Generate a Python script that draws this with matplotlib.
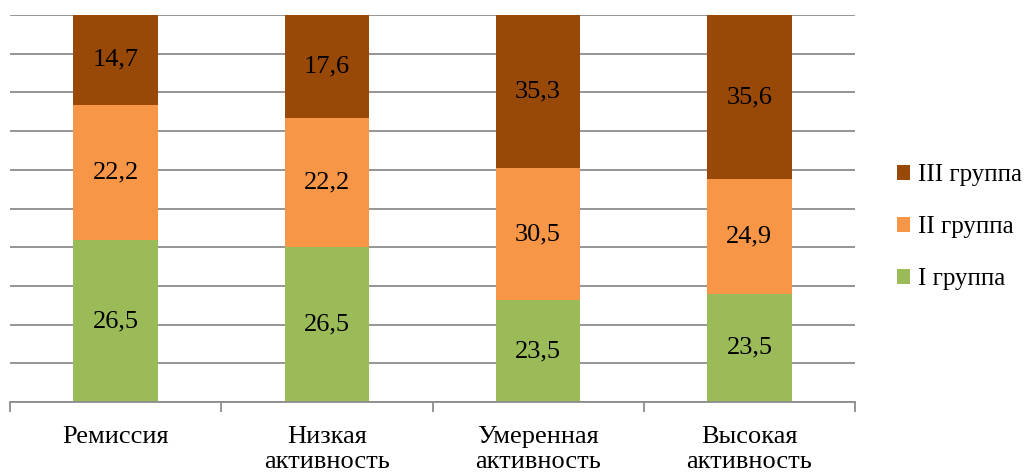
import matplotlib
matplotlib.use("Agg")
import matplotlib.pyplot as plt
from matplotlib.patches import Patch
import numpy as np

plt.rcParams['font.family'] = ['Liberation Serif', 'DejaVu Serif']

categories = ["Ремиссия", "Низкая\nактивность", "Умеренная\nактивность", "Высокая\nактивность"]
series_names = ["I группа", "II группа", "III группа"]
group1 = [26.5, 26.5, 23.5, 23.5]
group2 = [22.2, 22.2, 30.5, 24.9]
group3 = [14.7, 17.6, 35.3, 35.6]
colors = ["#9BBB59", "#F79646", "#984807"]

values = np.array([group1, group2, group3])
totals = values.sum(axis=0)
shares = values / totals * 100

fig = plt.figure(figsize=(10.27, 4.74), dpi=100)
ax = fig.add_axes([10 / 1027, 1 - 402 / 474, 845 / 1027, 387 / 474])

x = np.arange(len(categories))
bottom = np.zeros(len(categories))
for i in range(len(series_names)):
    ax.bar(x, shares[i], width=0.4, bottom=bottom, color=colors[i], zorder=2)
    for xi, b, h, v in zip(x, bottom, shares[i], values[i]):
        ax.text(xi, b + h / 2, f"{v:.1f}".replace(".", ","), ha="center", va="center",
                fontsize=19, color="black", zorder=3)
    bottom += shares[i]

ax.set_xlim(-0.5, len(categories) - 0.5)
ax.set_ylim(0, 100)
ax.set_yticks(np.arange(0, 101, 10))
ax.yaxis.grid(True, color="#8C8C8C", linewidth=1.3, zorder=0)
ax.tick_params(axis="y", left=False, labelleft=False)

ax.set_xticks(np.arange(-0.5, len(categories), 1.0))
ax.set_xticklabels([])
ax.set_xticks(x, minor=True)
ax.set_xticklabels(categories, minor=True, fontsize=19, linespacing=1.18)
ax.tick_params(axis="x", which="major", length=7, width=1.3, color="#8C8C8C", direction="out")
ax.tick_params(axis="x", which="minor", length=0, pad=17)

for s in ["top", "right", "left"]:
    ax.spines[s].set_visible(False)
ax.spines["bottom"].set_color("#8C8C8C")
ax.spines["bottom"].set_linewidth(1.3)

handles = [Patch(facecolor=colors[i], edgecolor="none", label=series_names[i]) for i in range(3)][::-1]
fig.legend(handles=handles, loc="center left", bbox_to_anchor=(879 / 1027, 1 - 227 / 474),
           frameon=False, fontsize=18, handlelength=0.55, handleheight=0.55,
           handletextpad=0.3, labelspacing=1.2, borderpad=0.2)

fig.savefig("out.png", dpi=100)
